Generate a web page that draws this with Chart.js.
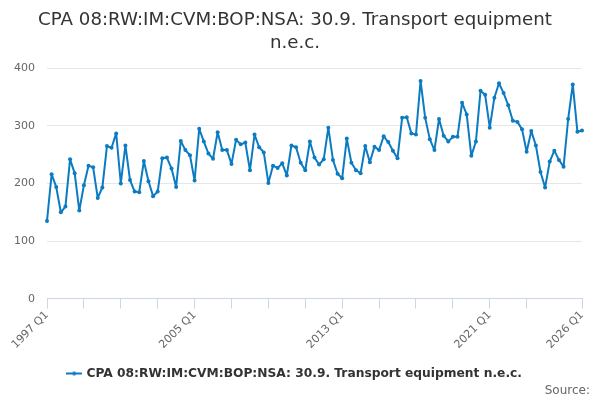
<!DOCTYPE html>
<html>
<head>
<meta charset="utf-8">
<script src="https://cdn.jsdelivr.net/npm/chart.js@4.4.1/dist/chart.umd.min.js"></script>
<style>
html,body{margin:0;padding:0;background:#fff;}
#wrap{width:600px;height:400px;position:relative;}
</style>
</head>
<body>
<div id="wrap"><canvas id="c" width="600" height="400"></canvas></div>
<script>
const startYear = 1997;
const quarterCount = 117;
const seriesName = "CPA 08:RW:IM:CVM:BOP:NSA: 30.9. Transport equipment n.e.c.";
const titleLines = ["CPA 08:RW:IM:CVM:BOP:NSA: 30.9. Transport equipment", "n.e.c."];
const values = [
 135,216,194,150,160,242,218,153,197,231,228,175,193,265,262,287,
 200,266,206,186,185,239,204,178,186,244,245,226,194,274,258,249,
 205,295,273,252,243,289,258,258,234,276,268,271,223,285,263,254,
 201,231,227,235,214,266,263,236,223,273,245,233,242,297,241,217,
 209,278,236,223,218,265,237,264,258,282,272,257,244,314,315,287,
 285,378,314,277,258,312,283,273,281,281,340,320,248,273,361,354,
 297,349,374,357,336,309,307,294,255,291,266,220,193,238,257,241,
 229,312,372,290,292
];
const labeledTicks = ["1997 Q1","2005 Q1","2013 Q1","2021 Q1","2026 Q1"];
const hiddenTicks = ["2025 Q1"];
const yTicks = [0,100,200,300,400];

const categories = [];
for (let i = 0; i < quarterCount; i++) {
  categories.push((startYear + Math.floor(i/4)) + " Q" + (i%4 + 1));
}

const blue = '#0b7bc2';
const FONT = "'DejaVu Sans', sans-serif";

// legend symbol: line with dot
const sym = document.createElement('canvas');
sym.width = 16; sym.height = 8;
(function(){
  const g = sym.getContext('2d');
  g.strokeStyle = blue; g.lineWidth = 2;
  g.beginPath(); g.moveTo(0,4); g.lineTo(16,4); g.stroke();
  g.fillStyle = blue; g.beginPath(); g.arc(8,4,2,0,Math.PI*2); g.fill();
})();

new Chart(document.getElementById('c'), {
  type: 'line',
  data: {
    labels: categories,
    datasets: [{
      label: seriesName,
      data: values,
      borderColor: blue,
      backgroundColor: blue,
      borderWidth: 2,
      borderJoinStyle: 'round',
      borderCapStyle: 'round',
      pointRadius: 2,
      pointHoverRadius: 3,
      pointBackgroundColor: blue,
      pointBorderWidth: 0,
      tension: 0
    }]
  },
  options: {
    responsive: false,
    animation: false,
    layout: { padding: { left: 0, right: 10, top: 4, bottom: 2 } },
    plugins: {
      title: {
        display: true,
        text: titleLines,
        color: '#333333',
        font: { family: FONT, size: 18.2, weight: 'normal', lineHeight: 1.3 },
        padding: { top: 4, bottom: 13 }
      },
      subtitle: {
        display: true,
        text: 'Source:',
        position: 'bottom',
        align: 'end',
        color: '#666666',
        font: { family: FONT, size: 12, weight: 'normal' },
        padding: { top: -6, bottom: 0 }
      },
      legend: {
        position: 'bottom',
        labels: {
          color: '#333333',
          font: { family: FONT, size: 12.25, weight: 'bold' },
          usePointStyle: true,
          boxWidth: 16,
          padding: 4,
          generateLabels: function(chart) {
            const items = Chart.defaults.plugins.legend.labels.generateLabels(chart);
            items.forEach(it => { it.pointStyle = sym; });
            return items;
          }
        }
      },
      tooltip: { enabled: false }
    },
    scales: {
      x: {
        type: 'category',
        offset: false,
        afterFit: function(s){ s.height += 12; },
        grid: { display: true, drawOnChartArea: false, drawTicks: true, tickLength: 10, color: '#ccd6eb' },
        border: { display: true, color: '#ccd6eb', width: 1 },
        ticks: {
          autoSkip: false,
          maxRotation: 45,
          minRotation: 45,
          color: '#666666',
          font: { family: FONT, size: 11 },
          padding: 0,
          callback: function(v, i) {
            const lab = categories[i];
            if (hiddenTicks.includes(lab)) return null;
            if (labeledTicks.includes(lab)) return lab;
            if (i % 8 === 0) return '';
            return null;
          }
        }
      },
      y: {
        min: yTicks[0],
        max: yTicks[yTicks.length-1],
        afterFit: function(s){ s.width = 47; },
        afterBuildTicks: function(s){ s.ticks = yTicks.map(v => ({value: v})); },
        grid: { color: '#e6e6e6', drawTicks: false },
        border: { display: false },
        ticks: {
          color: '#666666',
          font: { family: FONT, size: 11 },
          padding: 12
        }
      },
      spacer: {
        type: 'linear',
        position: 'right',
        display: true,
        afterFit: function(s){ s.width = 8; },
        grid: { display: false, drawTicks: false },
        border: { display: false },
        ticks: { display: false }
      }
    }
  }
});
</script>
</body>
</html>
